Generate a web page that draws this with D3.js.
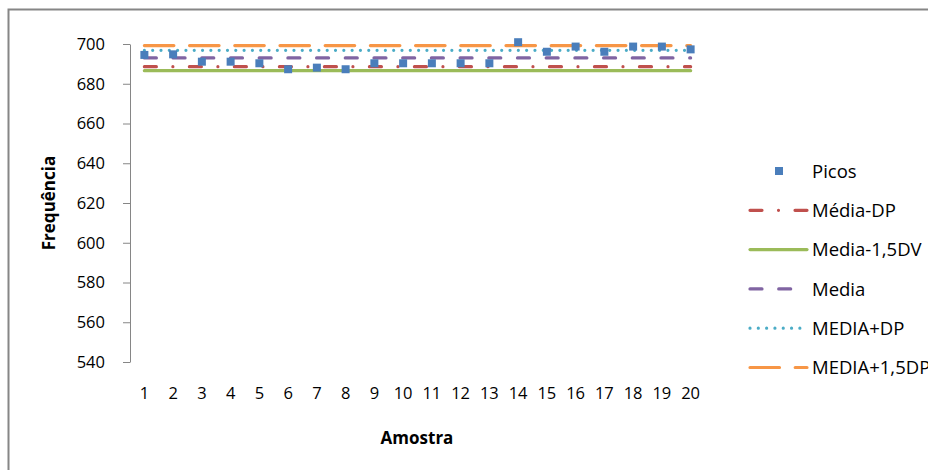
<!DOCTYPE html>
<html>
<head>
<meta charset="utf-8">
<script src="https://cdn.jsdelivr.net/npm/d3@7"></script>
<style>
  html, body { margin: 0; padding: 0; background: #fff; }
  svg { display: block; font-family: "Open Sans", Lato, sans-serif; }
</style>
</head>
<body>
<svg id="chart" width="928" height="470"></svg>
<script>
// Amostras (eixo X)
const amostras = ["1","2","3","4","5","6","7","8","9","10","11","12","13","14","15","16","17","18","19","20"];
// Frequência de pico medida em cada amostra
const picos = [694.5, 694.8, 691.1, 691.1, 690.3, 687.3, 688.1, 687.3, 690.3, 690.3,
               690.3, 690.3, 690.3, 700.9, 696.1, 698.7, 696.1, 698.7, 698.7, 697.3];
// Linhas de referência (média e desvios)
const mediaMenosDP   = [688.6, 688.6, 688.6, 688.6, 688.6, 688.6, 688.6, 688.6, 688.6, 688.6,
                        688.6, 688.6, 688.6, 688.6, 688.6, 688.6, 688.6, 688.6, 688.6, 688.6];
const mediaMenos15DV = [686.6, 686.6, 686.6, 686.6, 686.6, 686.6, 686.6, 686.6, 686.6, 686.6,
                        686.6, 686.6, 686.6, 686.6, 686.6, 686.6, 686.6, 686.6, 686.6, 686.6];
const media          = [693.0, 693.0, 693.0, 693.0, 693.0, 693.0, 693.0, 693.0, 693.0, 693.0,
                        693.0, 693.0, 693.0, 693.0, 693.0, 693.0, 693.0, 693.0, 693.0, 693.0];
const mediaMaisDP    = [696.8, 696.8, 696.8, 696.8, 696.8, 696.8, 696.8, 696.8, 696.8, 696.8,
                        696.8, 696.8, 696.8, 696.8, 696.8, 696.8, 696.8, 696.8, 696.8, 696.8];
const mediaMais15DP  = [699.2, 699.2, 699.2, 699.2, 699.2, 699.2, 699.2, 699.2, 699.2, 699.2,
                        699.2, 699.2, 699.2, 699.2, 699.2, 699.2, 699.2, 699.2, 699.2, 699.2];
// Marcas do eixo Y
const yTicks = [540, 560, 580, 600, 620, 640, 660, 680, 700];

const lineSeries = [
  { name: "Média-DP",     values: mediaMenosDP,   color: "#C0504D", dash: "12,16.5,0.01,16.5" },
  { name: "Media-1,5DV",  values: mediaMenos15DV, color: "#9BBB59", dash: null },
  { name: "Media",        values: media,          color: "#8064A2", dash: "12,16.7" },
  { name: "MEDIA+DP",     values: mediaMaisDP,    color: "#4BACC6", dash: "0.01,8.3" },
  { name: "MEDIA+1,5DP",  values: mediaMais15DP,  color: "#F79646", dash: "29.5,15.7" }
];

const svg = d3.select("#chart");
const FONT = "'Open Sans', Lato, sans-serif";

// Moldura da área do gráfico
svg.append("rect")
  .attr("x", 8.5).attr("y", 9.5)
  .attr("width", 940).attr("height", 480)
  .attr("fill", "none").attr("stroke", "#868686").attr("stroke-width", 2);

const plot = { left: 130, right: 705, top: 44, bottom: 362 };

const x = d3.scaleBand().domain(amostras).range([plot.left, plot.right]).padding(0);
const y = d3.scaleLinear().domain([540, 700]).range([plot.bottom, plot.top]);

// Eixo Y
const yAxis = svg.append("g")
  .attr("transform", `translate(${plot.left},0)`)
  .call(d3.axisLeft(y).tickValues(yTicks).tickSize(7).tickPadding(18).tickSizeOuter(0));
yAxis.select(".domain").attr("stroke", "#868686");
yAxis.selectAll(".tick line").attr("stroke", "#868686");
yAxis.selectAll(".tick text").attr("font-size", 16.5).attr("fill", "#000")
  .attr("font-family", FONT);

// Eixo X (somente rótulos)
const xAxis = svg.append("g")
  .attr("transform", `translate(0,${plot.bottom})`)
  .call(d3.axisBottom(x).tickSize(0).tickPadding(25));
xAxis.select(".domain").remove();
xAxis.selectAll(".tick text").attr("font-size", 16.5).attr("fill", "#000")
  .attr("font-family", FONT);

// Títulos dos eixos
svg.append("text")
  .attr("transform", `translate(55,${(plot.top + plot.bottom) / 2}) rotate(-90)`)
  .attr("text-anchor", "middle")
  .attr("font-size", 17).attr("font-weight", "bold").attr("fill", "#000")
  .text("Frequência");

svg.append("text")
  .attr("x", 417).attr("y", 444)
  .attr("text-anchor", "middle")
  .attr("font-size", 17).attr("font-weight", "bold").attr("fill", "#000")
  .text("Amostra");

const cx = d => x(d) + x.bandwidth() / 2;

// Linhas de referência
const line = d3.line().x((d, i) => cx(amostras[i])).y(d => y(d));
lineSeries.forEach(s => {
  svg.append("path")
    .datum(s.values)
    .attr("d", line)
    .attr("fill", "none")
    .attr("stroke", s.color)
    .attr("stroke-width", 3.2)
    .attr("stroke-linecap", "round")
    .attr("stroke-dasharray", s.dash);
});

// Pontos (Picos)
const sq = 8;
svg.append("g").selectAll("rect")
  .data(picos)
  .join("rect")
  .attr("x", (d, i) => cx(amostras[i]) - sq / 2)
  .attr("y", d => y(d) - sq / 2)
  .attr("width", sq).attr("height", sq)
  .attr("fill", "#4A7EBB");

// Legenda
const legend = svg.append("g");
const lx0 = 750, lx1 = 807, ltx = 812, ly0 = 171, lstep = 39.3;
const legItems = [{ name: "Picos", marker: true }].concat(lineSeries);
legItems.forEach((s, i) => {
  const yy = ly0 + i * lstep;
  if (s.marker) {
    legend.append("rect")
      .attr("x", 779 - sq / 2).attr("y", yy - sq / 2)
      .attr("width", sq).attr("height", sq).attr("fill", "#4A7EBB");
  } else {
    legend.append("line")
      .attr("x1", lx0).attr("x2", lx1).attr("y1", yy).attr("y2", yy)
      .attr("stroke", s.color).attr("stroke-width", 3.2)
      .attr("stroke-linecap", "round")
      .attr("stroke-dasharray", s.dash);
  }
  legend.append("text")
    .attr("x", ltx).attr("y", yy).attr("dy", "0.36em")
    .attr("font-size", 18.5).attr("fill", "#000")
    .attr("font-family", FONT)
    .text(s.name);
});
</script>
</body>
</html>
